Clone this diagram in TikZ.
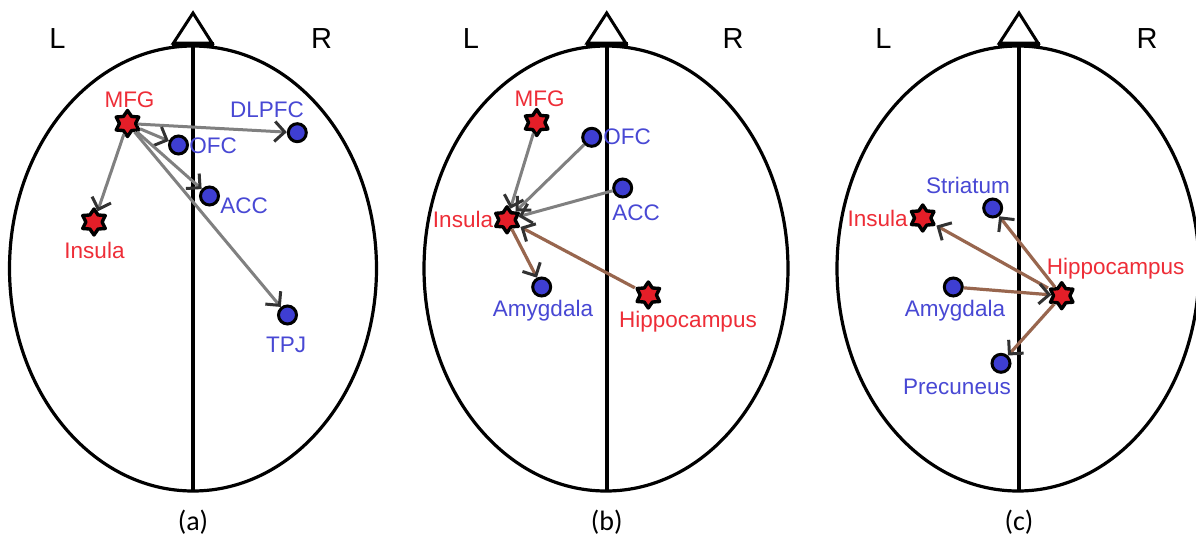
\documentclass[tikz,border=0pt]{standalone}
\usepackage{fontspec}
\usetikzlibrary{shapes.geometric,arrows.meta}
\newfontfamily\labfont{Liberation Sans}
\newfontfamily\capfont{Carlito}
\definecolor{starred}{RGB}{228,30,40}
\definecolor{labred}{RGB}{238,45,55}
\definecolor{labblue}{RGB}{72,72,212}
\definecolor{roiblue}{RGB}{62,62,210}
\definecolor{edgegray}{RGB}{128,128,128}
\definecolor{edgebrown}{RGB}{152,102,78}
\definecolor{tipgray}{RGB}{50,50,50}
\tikzset{
  starnode/.style={star, star points=6, star point ratio=1.6, minimum size=26pt, inner sep=0pt,
    draw=black, line width=3.4pt, line join=round, fill=starred},
  roi/.style={circle, minimum size=18pt, inner sep=0pt, draw=black, line width=3pt, fill=roiblue},
  redlab/.style={text=labred, font=\labfont\fontsize{22.5}{26}\selectfont, anchor=base, inner sep=0pt},
  bluelab/.style={text=labblue, font=\labfont\fontsize{22.5}{26}\selectfont, anchor=base, inner sep=0pt},
  sidelab/.style={text=black, font=\labfont\fontsize{29}{32}\selectfont, anchor=base, inner sep=0pt},
  caplab/.style={text=black, font=\capfont\fontsize{28}{30}\selectfont, anchor=base, inner sep=0pt},
  head/.style={line width=3pt, line join=miter},
  headbar/.style={line width=5pt},
  midline/.style={line width=4pt},
  skull/.style={line width=3.2pt},
  grayedge/.style={draw=edgegray, line width=3pt,
    -{Straight Barb[length=10pt, width=20pt, line width=3pt, color=tipgray]}},
  brownedge/.style={draw=edgebrown, line width=3.2pt,
    -{Straight Barb[length=10pt, width=20pt, line width=3pt, color=tipgray]}},
}
\begin{document}
\begin{tikzpicture}[x=1pt, y=-1pt]
\useasboundingbox (0,0) rectangle (1196,542);
\fill[white] (0,0) rectangle (1196,542);

% ---------- head outlines ----------
\foreach \cx/\mx/\rx/\lx/\rrx/\cap in {193/193/183.5/57.5/321.7/a, 606/606.7/182/471/733/b, 1018/1019/181/883.5/1147/c}{
  \draw[skull] (\cx,268.5) ellipse [x radius=\rx, y radius=222.5];
  \draw[midline] (\mx,44) -- (\mx,491);
  \draw[head] (\mx,13) -- (\mx+19,43) -- (\mx-19.5,43) -- cycle;
  \draw[headbar] (\mx-21,44.2) -- (\mx+21,44.2);
  \node[sidelab] at (\lx,48.6) {L};
  \node[sidelab] at (\rrx,48.6) {R};
  \node[caplab] at (\mx,530) {(\cap)};
}

% ---------- panel (a) ----------
\node[starnode] (aMFG) at (127.5,123.5) {};
\node[roi] (aDLPFC) at (297.3,132.7) {};
\node[roi] (aOFC) at (178.5,145) {};
\node[roi] (aACC) at (209.5,196) {};
\node[starnode] (aIns) at (94,222) {};
\node[roi] (aTPJ) at (287.5,315) {};
\node[redlab] (aMFGl) at (129.5,107) {MFG};
\node[bluelab] (aDLPFCl) at (267,117) {DLPFC};
\node[bluelab] (aOFCl) at (213,153) {OFC};
\node[bluelab] (aACCl) at (244,213) {ACC};
\node[redlab] (aInsl) at (94.5,258.7) {Insula};
\node[bluelab] (aTPJl) at (286,352) {TPJ};
\draw[grayedge] (aMFG) -- (aDLPFC);
\draw[grayedge] (aMFG) -- (aOFC);
\draw[grayedge] (aMFG) -- (aACC);
\draw[grayedge] (aMFG) -- (aTPJ);
\draw[grayedge] (aMFG) -- (aIns);

% ---------- panel (b) ----------
\node[starnode] (bMFG) at (536.7,122.5) {};
\node[roi] (bOFC) at (591.7,137.3) {};
\node[roi] (bACC) at (622.7,188) {};
\node[starnode] (bIns) at (507,219.8) {};
\node[roi] (bAmy) at (541.7,287) {};
\node[starnode] (bHip) at (648.3,295) {};
\node[redlab] (bMFGl) at (539.5,106.3) {MFG};
\node[bluelab] (bOFCl) at (627,144.9) {OFC};
\node[bluelab] (bACCl) at (636,220.8) {ACC};
\node[redlab] (bInsl) at (463,227) {Insula};
\node[bluelab] (bAmyl) at (543,316.4) {Amygdala};
\node[redlab] (bHipl) at (688,327.7) {Hippocampus};
\draw[grayedge] (bMFG) -- (bIns);
\draw[grayedge] (bOFC) -- (bIns);
\draw[grayedge] (bACC) -- (bIns);
\draw[brownedge] (bHip) -- (bIns);
\draw[brownedge] (bIns) -- (bAmy);

% ---------- panel (c) ----------
\node[roi] (cStr) at (992.7,208) {};
\node[starnode] (cIns) at (922.7,218) {};
\node[starnode] (cHip) at (1061.7,295.7) {};
\node[roi] (cAmy) at (953.3,287) {};
\node[roi] (cPre) at (1001,363.3) {};
\node[bluelab] (cStrl) at (968,193.2) {Striatum};
\node[redlab] (cInsl) at (877.7,226) {Insula};
\node[redlab, anchor=base west] (cHipl) at (1046.7,274.3) {Hippocampus};
\node[bluelab] (cAmyl) at (955,316.7) {Amygdala};
\node[bluelab] (cPrel) at (957,394) {Precuneus};
\draw[brownedge] (cHip) -- (cIns);
\draw[brownedge] (cHip) -- (cStr);
\draw[brownedge] (cAmy) -- (cHip);
\draw[brownedge] (cHip) -- (cPre);
\end{tikzpicture}
\end{document}
